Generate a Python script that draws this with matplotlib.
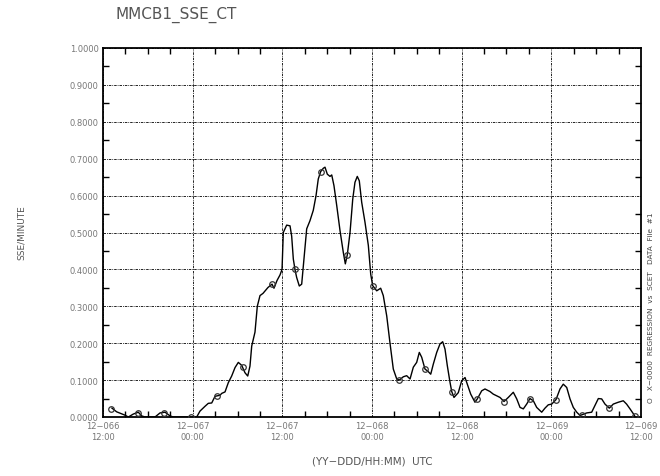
import matplotlib
matplotlib.use("Agg")
import matplotlib.pyplot as plt
from matplotlib.ticker import MultipleLocator, FixedLocator

# Hours since 12-066 12:00 UTC and SSE/minute values
hours = [1.20, 1.83, 2.94, 3.39, 4.06, 4.72, 5.18, 5.62, 6.96, 7.63, 8.30, 8.97,
         9.41, 11.42, 12.54, 12.98, 13.65, 14.09, 14.55, 14.99, 15.66, 15.89, 16.33,
         16.77, 17.22, 17.67, 18.11, 18.56, 19.00, 19.37, 19.67, 19.90, 20.11, 20.34,
         20.65, 21.01, 21.41, 22.08, 22.62, 22.88, 23.29, 23.69, 23.96, 24.13, 24.58,
         25.03, 25.25, 25.47, 25.70, 25.92, 26.27, 26.59, 26.90, 27.26, 27.70, 28.14,
         28.51, 28.81, 29.13, 29.48, 29.71, 30.02, 30.38, 30.61, 30.91, 31.28, 31.72,
         32.16, 32.43, 32.69, 33.06, 33.42, 33.72, 34.03, 34.30, 34.62, 35.06, 35.51,
         35.83, 36.09, 36.63, 37.16, 37.51, 37.97, 38.41, 38.85, 39.31, 39.65, 40.19,
         40.64, 41.09, 41.53, 41.98, 42.33, 42.65, 43.09, 43.53, 43.86, 44.20, 44.66,
         45.10, 45.46, 45.77, 46.08, 46.44, 46.67, 46.97, 47.55, 48.00, 48.45, 48.75,
         49.21, 49.78, 50.09, 50.68, 51.12, 51.79, 52.23, 53.13, 53.67, 54.24, 54.91,
         55.37, 55.81, 56.25, 56.70, 57.14, 57.59, 58.04, 58.71, 59.15, 59.59, 60.05,
         60.62, 61.16, 61.60, 62.06, 62.50, 62.94, 63.40, 63.84, 64.73, 65.40, 65.84,
         66.29, 66.74, 67.18, 67.76, 68.29, 68.96, 69.63, 70.07, 70.53, 70.97, 71.20]
sse = [0.024, 0.014, 0.005, 0.000, 0.008, 0.013, 0.003, 0.000, 0.000, 0.011, 0.013, 0.003,
       0.000, 0.000, 0.000, 0.016, 0.029, 0.037, 0.038, 0.056, 0.059, 0.064, 0.068,
       0.093, 0.111, 0.134, 0.148, 0.140, 0.120, 0.111, 0.138, 0.192, 0.210, 0.230,
       0.300, 0.329, 0.335, 0.351, 0.360, 0.349, 0.370, 0.385, 0.400, 0.500, 0.520,
       0.518, 0.490, 0.428, 0.399, 0.378, 0.355, 0.360, 0.428, 0.510, 0.532, 0.560,
       0.600, 0.645, 0.665, 0.674, 0.677, 0.658, 0.652, 0.656, 0.627, 0.573, 0.505,
       0.446, 0.415, 0.439, 0.500, 0.590, 0.636, 0.652, 0.640, 0.582, 0.528, 0.465,
       0.387, 0.356, 0.342, 0.349, 0.329, 0.274, 0.200, 0.130, 0.103, 0.100, 0.109,
       0.112, 0.103, 0.135, 0.148, 0.175, 0.162, 0.130, 0.123, 0.116, 0.143, 0.175,
       0.198, 0.204, 0.184, 0.139, 0.094, 0.069, 0.053, 0.066, 0.098, 0.107, 0.089,
       0.062, 0.040, 0.049, 0.071, 0.076, 0.069, 0.062, 0.053, 0.042, 0.053, 0.067,
       0.049, 0.026, 0.022, 0.035, 0.050, 0.044, 0.026, 0.013, 0.024, 0.033, 0.035,
       0.047, 0.076, 0.089, 0.080, 0.049, 0.026, 0.013, 0.004, 0.011, 0.013, 0.031,
       0.050, 0.049, 0.035, 0.024, 0.035, 0.040, 0.044, 0.035, 0.022, 0.009, 0.001]

# Regression sample points marked with circles
mark_hours = [1.07, 4.68, 8.10, 11.74, 15.22, 18.74, 22.62, 25.63, 29.18, 32.69, 36.09,
              39.65, 43.09, 46.67, 50.09, 53.67, 57.14, 60.62, 64.07, 67.76, 71.20]
mark_sse = [0.022, 0.010, 0.010, 0.000, 0.058, 0.135, 0.360, 0.400, 0.665, 0.439, 0.356,
            0.100, 0.130, 0.069, 0.049, 0.042, 0.050, 0.047, 0.005, 0.024, 0.002]

tick_hours = [0, 12, 24, 36, 48, 60, 72]
tick_labels = ["12\u2212066\n12:00", "12\u2212067\n00:00", "12\u2212067\n12:00",
               "12\u2212068\n00:00", "12\u2212068\n12:00", "12\u2212069\n00:00",
               "12\u2212069\n12:00"]
y_ticks = [0.0, 0.1, 0.2, 0.3, 0.4, 0.5, 0.6, 0.7, 0.8, 0.9, 1.0]

fig = plt.figure(figsize=(6.6, 4.77), dpi=100)
ax = fig.add_axes([103 / 660, 59 / 477, 538 / 660, 369 / 477])

ax.plot(hours, sse, color="black", lw=1.0, zorder=3)
ax.plot(mark_hours, mark_sse, linestyle="none", marker="o", ms=4.0,
        mfc="none", mec="#333333", mew=0.9, zorder=4)

ax.set_xlim(0, 72)
ax.set_ylim(0, 1.0)
ax.xaxis.set_major_locator(FixedLocator(tick_hours))
ax.xaxis.set_minor_locator(MultipleLocator(3))
ax.yaxis.set_major_locator(FixedLocator(y_ticks))
ax.yaxis.set_minor_locator(MultipleLocator(0.05))
ax.set_xticklabels(tick_labels)
ax.set_yticklabels([f"{v:.4f}" for v in y_ticks])

ax.grid(True, which="major", color="black", linestyle=(0, (3, 1.2, 1, 1.2)), lw=0.6)
ax.tick_params(which="both", direction="in", top=True, right=True,
               color="black", width=1.0)
ax.tick_params(which="major", length=0, labelsize=6.0, labelcolor="#777777", pad=3)
ax.tick_params(which="minor", length=4)
for side in ax.spines.values():
    side.set_linewidth(1.3)

fig.text(176 / 660, 1 - 15 / 477, "MMCB1_SSE_CT", ha="center", va="center",
         fontsize=11, color="#555555")
fig.text(21 / 660, 1 - 233 / 477, "SSE/MINUTE", rotation=90, ha="center",
         va="center", fontsize=6.5, color="#555555")
fig.text(372 / 660, 1 - 462 / 477, "(YY\u2212DDD/HH:MM)  UTC", ha="center",
         va="center", fontsize=7.5, color="#555555")
fig.text(651 / 660, 1 - 308 / 477,
         "O   X\u22120000  REGRESSION  vs  SCET   DATA  File  #1",
         rotation=90, ha="center", va="center", fontsize=5.3, color="#444444")

fig.savefig("out.png", dpi=100)
